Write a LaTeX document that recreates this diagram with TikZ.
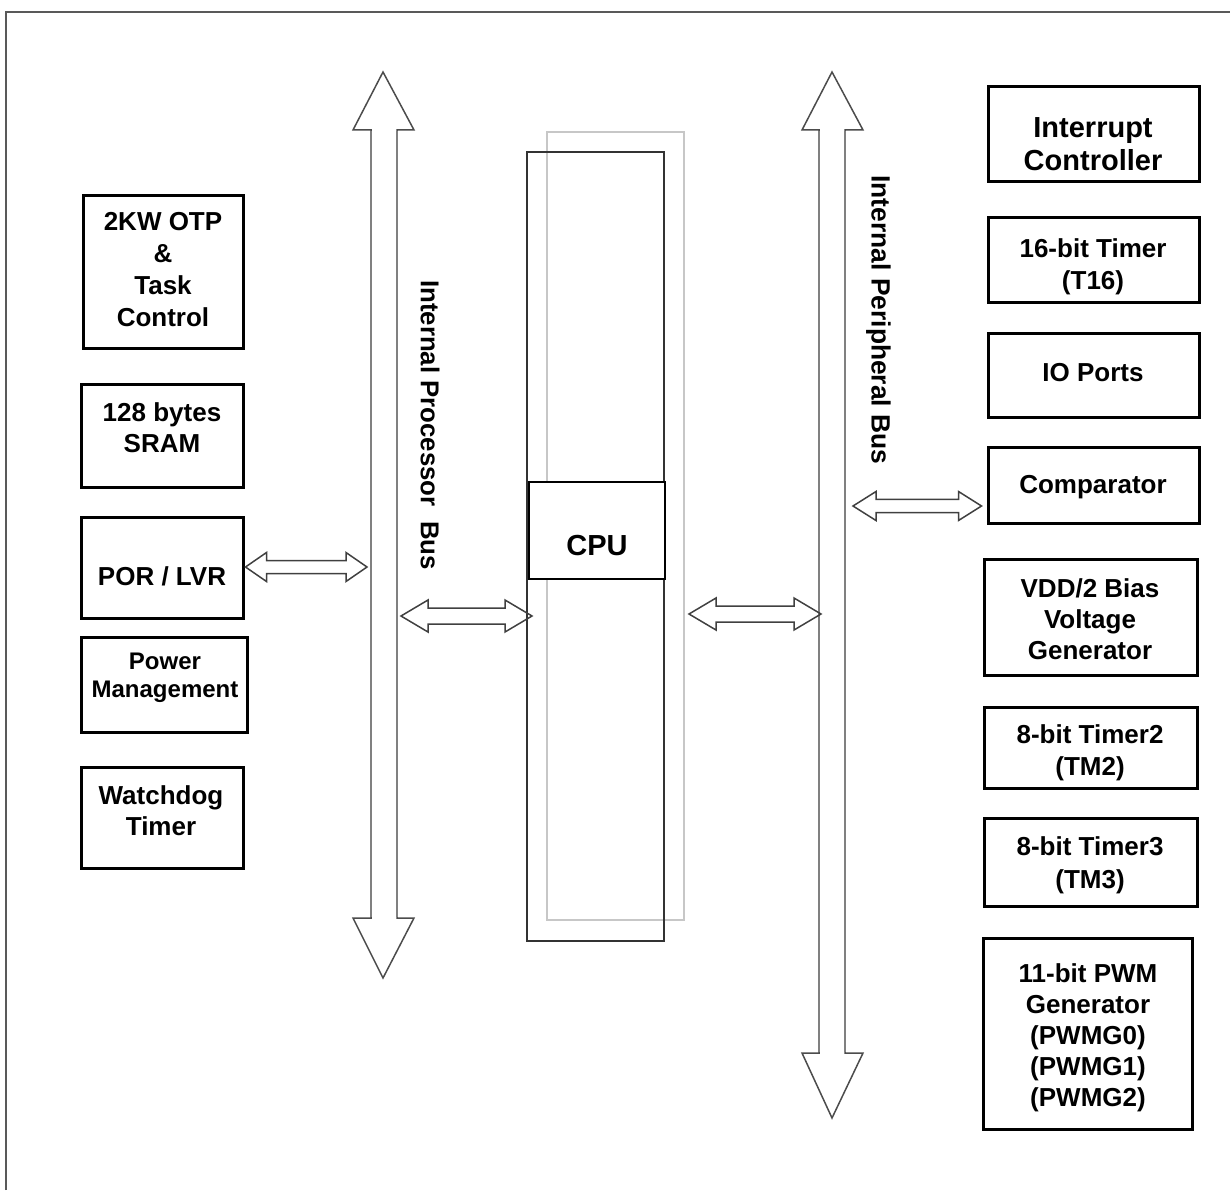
\documentclass[tikz,border=0pt]{standalone}
\usepackage{fontspec}
\setmainfont{Liberation Sans}
\usetikzlibrary{calc}
\tikzset{
  box/.style={draw=black, line width=3pt, rectangle, inner sep=0pt},
  cpubox/.style={draw=black, fill=white, line width=2.5pt, rectangle, inner sep=0pt},
  lbl/.style 2 args={font=\bfseries\fontsize{#1}{#2}\selectfont, align=center, inner sep=0pt},
  bustxt/.style={font=\bfseries\fontsize{#1}{30}\selectfont, inner sep=0pt, rotate=-90},
  frame/.style={draw=black!65, line width=2pt},
  busline/.style={draw=black!70, line width=1.5pt, line join=miter},
  busshaft/.style={draw=black!50, line width=2.4pt},
  dblarrow/.style={draw=black!75, line width=1.5pt, line join=miter},
  darkrect/.style={draw=black!80, line width=1.6pt},
  grayrect/.style={draw=black!22, line width=1.6pt}
}
\newcommand{\myst}{\vphantom{(}}
% \blk{name}{x1}{y1}{x2}{y2}
\newcommand{\blk}[6][box]{%
  \node[#1, minimum width={(#5-#3)*1pt}, minimum height={(#6-#4)*1pt}]
    (#2) at ({(#3+#5)/2},{(#4+#6)/2}) {};}
% \dbl{left tip}{right tip}{head length}{head half height}{shaft half height}
\newcommand{\dbl}[5]{%
  \draw[dblarrow] (#1) -- ($(#1)+(#3,-#4)$) -- ($(#1)+(#3,-#5)$)
    -- ($(#2)+(-#3,-#5)$) -- ($(#2)+(-#3,-#4)$) -- (#2)
    -- ($(#2)+(-#3,#4)$) -- ($(#2)+(-#3,#5)$)
    -- ($(#1)+(#3,#5)$) -- ($(#1)+(#3,#4)$) -- cycle;}
\begin{document}
\begin{tikzpicture}[x=1pt,y=-1pt]
\useasboundingbox (0,0) rectangle (1230,1190);
% outer frame (only left and top edges visible)
\draw[frame] (6,1190) -- (6,12) -- (1230,12);

% ---------- CPU column ----------
\draw[grayrect] (547,132) rectangle (684,920);
\draw[darkrect] (527,152) rectangle (664,941);
\blk[cpubox]{cpu}{529}{482}{665}{579}
\node[lbl={29}{34}] (cpu-t) at (597,548) {\myst CPU};

% ---------- buses ----------
\coordinate (pb-top) at (383,72);
\coordinate (pb-bot) at (383,978);
\draw[busline] (pb-top) -- (414,130) -- (397,130) -- (397,918) -- (414,918)
  -- (pb-bot) -- (353,918) -- (371,918) -- (371,130) -- (353,130) -- cycle;
\draw[busshaft] (371,131) -- (371,917) (397,131) -- (397,917);

\coordinate (ib-top) at (832,72);
\coordinate (ib-bot) at (832,1118);
\draw[busline] (ib-top) -- (863,130) -- (845,130) -- (845,1053) -- (863,1053)
  -- (ib-bot) -- (802,1053) -- (819,1053) -- (819,130) -- (802,130) -- cycle;
\draw[busshaft] (819,131) -- (819,1052) (845,131) -- (845,1052);

\node[bustxt=25.8] (pbus-t) at (427.5,425) {\myst Internal Processor\ \ Bus};
\node[bustxt=26.4] (ibus-t) at (878.5,320) {\myst Internal Peripheral Bus};

% ---------- left blocks ----------
\blk{otp}{83}{196}{243}{348}
\node[lbl={26}{32}] (otp-t) at (163,272) {\myst 2KW OTP\\\myst\&\\\myst Task\\\myst Control};
\blk{sram}{81}{384}{243}{487}
\node[lbl={26}{31}] (sram-t) at (162,430) {\myst 128 bytes\\\myst SRAM};
\blk{por}{81}{517}{243}{618}
\node[lbl={26}{31}] (por-t) at (162,578.6) {\myst POR / LVR};
\blk{pm}{81}{637}{247}{732}
\node[lbl={24}{28}] (pm-t) at (165,677.5) {\myst Power\\\myst Management};
\blk{wdt}{81}{767}{243}{868}
\node[lbl={26}{31}] (wdt-t) at (161,813) {\myst Watchdog\\\myst Timer};

% ---------- right blocks ----------
\blk{ic}{988}{87}{1199}{182}
\node[lbl={29}{33}] (ic-t) at (1093,146.5) {\myst Interrupt\\\myst Controller};
\blk{t16}{988}{218}{1199}{302}
\node[lbl={26}{32}] (t16-t) at (1093,266.6) {\myst 16-bit Timer\\\myst (T16)};
\blk{io}{988}{333}{1199}{417}
\node[lbl={26}{32}] (io-t) at (1093,374.6) {\myst IO Ports};
\blk{cmp}{988}{447}{1199}{523}
\node[lbl={26}{32}] (cmp-t) at (1093,486.6) {\myst Comparator};
\blk{vdd}{984}{559}{1197}{675}
\node[lbl={26}{31}] (vdd-t) at (1090,621.6) {\myst VDD/2 Bias\\\myst Voltage\\\myst Generator};
\blk{tm2}{984}{707}{1197}{788}
\node[lbl={26}{32}] (tm2-t) at (1090,752.6) {\myst 8-bit Timer2\\\myst (TM2)};
\blk{tm3}{984}{818}{1197}{906}
\node[lbl={26}{33}] (tm3-t) at (1090,865) {\myst 8-bit Timer3\\\myst (TM3)};
\blk{pwm}{983}{938}{1192}{1129}
\node[lbl={26}{31}] (pwm-t) at (1088,1038) {\myst 11-bit PWM\\\myst Generator\\\myst (PWMG0)\\\myst (PWMG1)\\\myst (PWMG2)};

% ---------- double arrows ----------
\coordinate (a1l) at ($(por.east)+(1,-0.5)$);
\coordinate (a1r) at (367,567);
\dbl{a1l}{a1r}{21}{14.5}{6.5}
\coordinate (a2l) at (401,616);
\coordinate (a2r) at (532,616);
\dbl{a2l}{a2r}{27}{16}{8}
\coordinate (a3l) at (689,614);
\coordinate (a3r) at (821,614);
\dbl{a3l}{a3r}{27}{16}{8}
\coordinate (a4l) at (853,506);
\coordinate (a4r) at ($(cmp.west)+(-5,21)$);
\dbl{a4l}{a4r}{23}{14.5}{6.7}
\end{tikzpicture}
\end{document}
